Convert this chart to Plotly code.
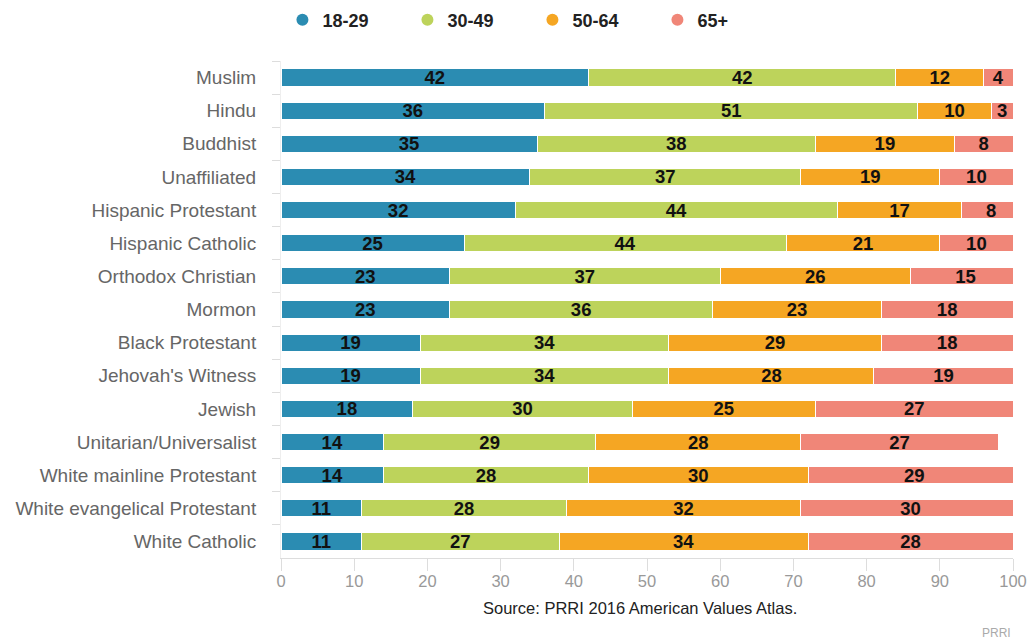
import plotly.graph_objects as go

groups = ["Muslim", "Hindu", "Buddhist", "Unaffiliated", "Hispanic Protestant",
          "Hispanic Catholic", "Orthodox Christian", "Mormon", "Black Protestant",
          "Jehovah's Witness", "Jewish", "Unitarian/Universalist",
          "White mainline Protestant", "White evangelical Protestant", "White Catholic"]
age_18_29 = [42, 36, 35, 34, 32, 25, 23, 23, 19, 19, 18, 14, 14, 11, 11]
age_30_49 = [42, 51, 38, 37, 44, 44, 37, 36, 34, 34, 30, 29, 28, 28, 27]
age_50_64 = [12, 10, 19, 19, 17, 21, 26, 23, 29, 28, 25, 28, 30, 32, 34]
age_65p = [4, 3, 8, 10, 8, 10, 15, 18, 18, 19, 27, 27, 29, 30, 28]
series_names = ["18-29", "30-49", "50-64", "65+"]
colors = ["#2b8cb2", "#bdd35b", "#f5a623", "#f08678"]
x_ticks = [0, 10, 20, 30, 40, 50, 60, 70, 80, 90, 100]

FONT = "Liberation Sans, Arial, sans-serif"

fig = go.Figure()
for name, vals, col in zip(series_names, [age_18_29, age_30_49, age_50_64, age_65p], colors):
    fig.add_trace(go.Bar(
        y=groups, x=vals, orientation="h", name=name,
        marker=dict(color=col, line=dict(color="white", width=1)),
        text=vals, textposition="inside", insidetextanchor="middle", textangle=0,
        constraintext="none",
        textfont=dict(family=FONT, size=18.5, color="#111111", weight="bold"),
        showlegend=False, hoverinfo="skip", cliponaxis=True,
    ))
for name, col in zip(series_names, colors):
    fig.add_trace(go.Scatter(
        x=[None], y=[None], mode="markers", name=name,
        marker=dict(color=col, size=16, symbol="circle"), showlegend=True,
    ))

fig.update_layout(
    width=1027, height=639,
    barmode="stack", bargap=0.48,
    plot_bgcolor="white", paper_bgcolor="white",
    margin=dict(l=281, r=14, t=61, b=81, autoexpand=False),
    uniformtext=dict(mode="show", minsize=10),
    legend=dict(orientation="h", x=0.275, xanchor="left", xref="container",
                y=1 - 20 / 639, yanchor="middle", yref="container",
                entrywidth=80, entrywidthmode="pixels", traceorder="normal",
                itemsizing="constant",
                font=dict(family=FONT, size=18, color="#222222", weight="bold"),
                bgcolor="rgba(0,0,0,0)"),
    xaxis=dict(range=[0, 100], tickvals=x_ticks, showgrid=False, zeroline=False,
               showline=True, linecolor="#dddddd", linewidth=1,
               ticks="outside", ticklen=12, tickcolor="#dddddd",
               ticklabelstandoff=-4, ticklabeloverflow="allow",
               tickfont=dict(family=FONT, size=16.5, color="#999999")),
    yaxis=dict(categoryorder="array", categoryarray=groups, autorange="reversed",
               showgrid=False, showline=True, linecolor="#eeeeee",
               ticks="outside", tickson="boundaries", ticklen=8, tickcolor="#dddddd",
               ticklabelstandoff=20,
               tickfont=dict(family=FONT, size=19, color="#666666")),
    showlegend=True,
)

fig.add_annotation(text="Source: PRRI 2016 American Values Atlas.", xref="paper", yref="paper",
                   x=0.49, y=0, yshift=-50, yanchor="middle", showarrow=False,
                   font=dict(family=FONT, size=16.5, color="#222222"))
fig.add_annotation(text="PRRI", xref="paper", yref="paper", x=1.0, y=0, yshift=-75,
                   xanchor="right", yanchor="middle", showarrow=False,
                   font=dict(family=FONT, size=12, color="#aaaaaa"))

fig.write_html("out.html")
